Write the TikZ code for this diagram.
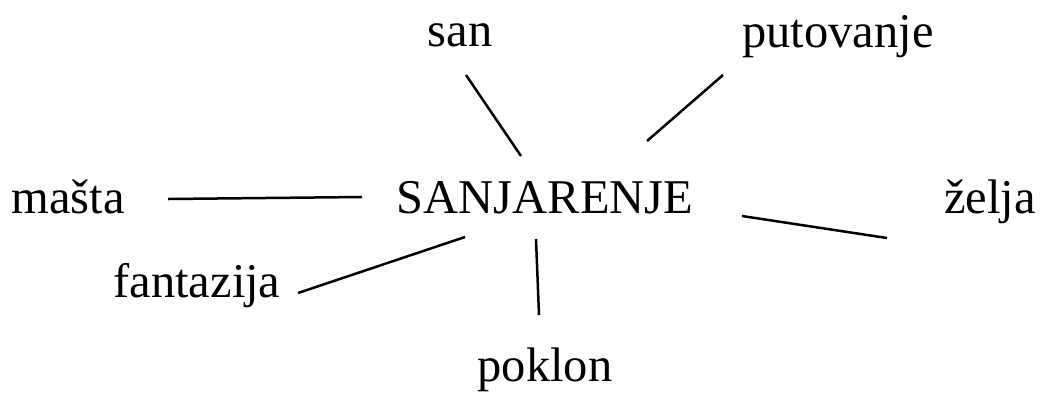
\documentclass[tikz,border=0pt]{standalone}
\usepackage{fontspec}
\setmainfont{Liberation Serif}
\usetikzlibrary{positioning}

\begin{document}
\begin{tikzpicture}[
  x=1pt, y=-1pt,
  word/.style={anchor=base, inner sep=0pt, font=\fontsize{48.5}{54}\selectfont},
  link/.style={line width=2.5pt}
]
\useasboundingbox (0,0) rectangle (1040,392);

\node[word] (hub) at (545,213) {SANJARENJE};
\node[word] (san) at (460,46) {san};
\node[word] (put) at (838,47) {putovanje};
\node[word] (masta) at (68,213) {mašta};
\node[word] (zelja) at (990,213) {želja};
\node[word] (fant) at (197,297) {fantazija};
\node[word] (pok) at (545,381) {poklon};

% line ends
\coordinate (san-a) at (466,75);
\coordinate (san-b) at (521,156);
\coordinate (put-a) at (723,75);
\coordinate (put-b) at (647,141);
\coordinate (masta-a) at (168,199);
\coordinate (masta-b) at (362,197);
\coordinate (zelja-a) at (887,238);
\coordinate (zelja-b) at (742,216);
\coordinate (fant-a) at (298,293);
\coordinate (fant-b) at (465,237);
\coordinate (pok-a) at (539,315);
\coordinate (pok-b) at (536,239);

\draw[link] (san-a) -- (san-b);
\draw[link] (put-a) -- (put-b);
\draw[link] (masta-a) -- (masta-b);
\draw[link] (zelja-a) -- (zelja-b);
\draw[link] (fant-a) -- (fant-b);
\draw[link] (pok-a) -- (pok-b);
\end{tikzpicture}
\end{document}
